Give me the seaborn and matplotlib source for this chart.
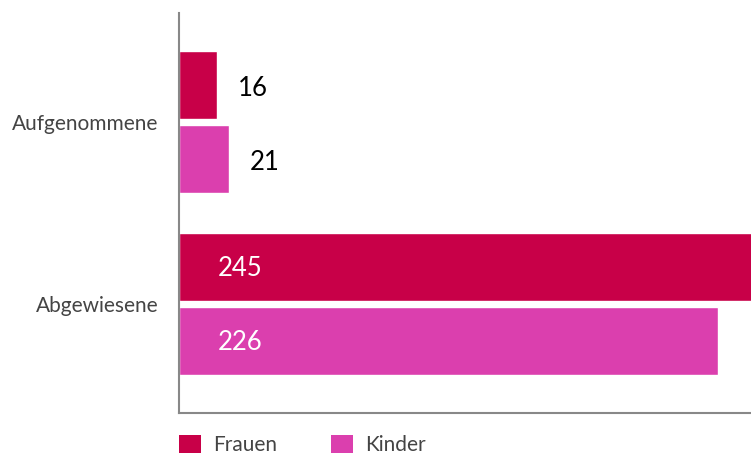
import matplotlib
matplotlib.use("Agg")
import matplotlib.pyplot as plt
import seaborn as sns
import pandas as pd
from matplotlib.patches import Patch

# Data
categories = ["Aufgenommene", "Abgewiesene"]
frauen = [16, 245]
kinder = [21, 226]
series_names = ["Frauen", "Kinder"]
colors = {"Frauen": "#C80048", "Kinder": "#DB3FAE"}

df = pd.DataFrame({
    "Kategorie": categories * 2,
    "Wert": frauen + kinder,
    "Gruppe": [series_names[0]] * 2 + [series_names[1]] * 2,
})

sns.set_theme(style="white")
plt.rcParams["font.family"] = ["Lato", "DejaVu Sans"]

fig = plt.figure(figsize=(7.51, 4.55), dpi=100)
ax = fig.add_axes([179 / 751, 42 / 455, 1 - 179 / 751, 400 / 455])

sns.barplot(data=df, y="Kategorie", x="Wert", hue="Gruppe", order=categories,
            hue_order=series_names, palette=colors, orient="h",
            width=0.815, gap=0.085, legend=False, ax=ax, saturation=1)

ax.set_xlim(0, 240)
ax.set_ylim(1.6, -0.6)
ax.set_xlabel("")
ax.set_ylabel("")
ax.set_xticks([])
ax.tick_params(axis="y", length=0, pad=15, labelsize=15, labelcolor="#444444")

for side in ["top", "right"]:
    ax.spines[side].set_visible(False)
for side in ["left", "bottom"]:
    ax.spines[side].set_color("#888888")
    ax.spines[side].set_linewidth(1.5)
    ax.spines[side].set_zorder(5)

# value labels: small bars outside in black, big bars inside in white
px = 72 / fig.dpi
for container in ax.containers:
    for bar in container:
        val = bar.get_width()
        yc = bar.get_y() + bar.get_height() / 2
        if val < 100:
            ax.annotate(f"{int(val)}", (val, yc), xytext=(21 * px, -3 * px),
                        textcoords="offset points", va="center", ha="left",
                        fontsize=18.5, color="black")
        else:
            ax.annotate(f"{int(val)}", (0, yc), xytext=(39 * px, -2 * px),
                        textcoords="offset points", va="center", ha="left",
                        fontsize=18.5, color="white")

handles = [Patch(facecolor=colors[s], edgecolor="none", label=s) for s in series_names]
fig.legend(handles=handles, loc="center left", bbox_to_anchor=(179 / 751, 1 - 445 / 455),
           ncol=2, frameon=False, fontsize=15, handlelength=1.06, handleheight=0.96,
           handletextpad=0.58, columnspacing=2.6, labelcolor="#444444",
           borderpad=0, borderaxespad=0)

fig.savefig("out.png", dpi=100)
